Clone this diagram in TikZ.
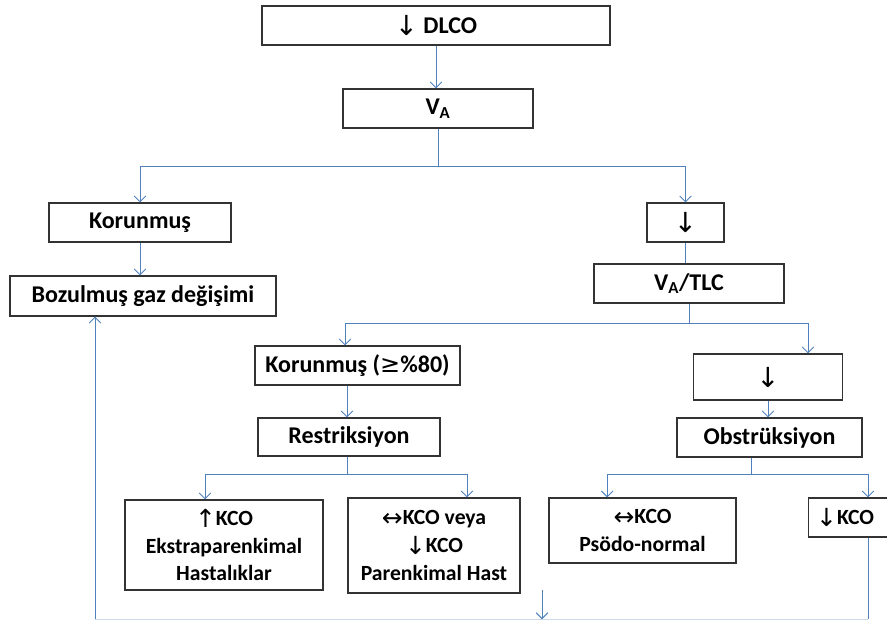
\documentclass[tikz,border=0pt]{standalone}
\usepackage{fontspec}
\setmainfont{Carlito}
\newfontfamily\okfont{DejaVu Sans}
\usepackage{tikz}
\usetikzlibrary{arrows.meta}
\definecolor{baglanti}{RGB}{79,129,189}
\newcommand{\ok}[1]{\raisebox{-0.15ex}{\scalebox{1.15}{\okfont\mdseries #1}}}
\tikzset{
  kutu/.style={draw=black!80,line width=0.9pt,fill=white,inner sep=0pt,align=center,font=\bfseries\fontsize{20.5}{24}\selectfont},
  altkutu/.style={kutu,font=\bfseries\fontsize{18.5}{23.5}\selectfont},
  hat/.style={draw=baglanti,line width=0.8pt},
  okhat/.style={hat,-{Straight Barb[length=5pt,width=10pt,line width=0.8pt]}}
}
\begin{document}
\begin{tikzpicture}[x=0.03cm,y=-0.03cm]
  \useasboundingbox (0,0) rectangle (887,620);
  % ust kisim
  \node[kutu,minimum width=10.44cm,minimum height=1.17cm] (dlco) at (436,25.5) {\ok{↓} DLCO};
  \node[kutu,minimum width=5.7cm,minimum height=1.17cm] (va) at (438,108.5) {V\textsubscript{A}};
  \node[kutu,minimum width=5.46cm,minimum height=1.17cm] (korL) at (140,222.5) {Korunmuş};
  \node[kutu,minimum width=7.98cm,minimum height=1.2cm] (bozul) at (143,296) {Bozulmuş gaz değişimi};
  \node[kutu,minimum width=2.31cm,minimum height=1.17cm] (azal) at (685.5,222.5) {\ok{↓}};
  \node[kutu,minimum width=5.7cm,minimum height=1.17cm] (vatlc) at (689,283.5) {V\textsubscript{A}/TLC};
  % orta kisim
  \node[kutu,minimum width=6.15cm,minimum height=1.17cm] (kor80) at (357.5,365.5) {Korunmuş ({\okfont\mdseries ≥}\%80)};
  \node[kutu,minimum width=5.46cm,minimum height=1.14cm] (restr) at (349,437) {Restriksiyon};
  \node[kutu,minimum width=4.47cm,minimum height=1.38cm] (azal2) at (768,377) {\ok{↓}};
  \node[kutu,minimum width=5.55cm,minimum height=1.17cm] (obstr) at (769.5,437.5) {Obstrüksiyon};
  % alt kisim
  \node[altkutu,minimum width=5.94cm,minimum height=2.7cm] (kcoA) at (224,545) {\ok{↑}KCO\\Ekstraparenkimal\\Hastalıklar};
  \node[altkutu,minimum width=5.16cm,minimum height=2.85cm] (kcoB) at (434,545.5) {\ok{↔}KCO veya\\\ok{↓}KCO\\Parenkimal Hast};
  \node[altkutu,minimum width=5.61cm,minimum height=1.95cm] (kcoC) at (642.5,530.5) {\ok{↔}KCO\\Psödo-normal};
  \node[altkutu,minimum width=2.52cm,minimum height=1.17cm,anchor=west] (kcoD) at (808,517.5) {\ok{↓}KCO\hspace{0.5em}};
  % baglantilar
  \draw[okhat] (dlco) -- (dlco |- va.north);
  \coordinate (b1) at (va.south |- 0,166);
  \draw[hat] (va.south) -- (b1);
  \draw[okhat] (b1) -| (korL.north);
  \draw[okhat] (b1) -| (azal.north);
  \draw[okhat] (korL) -- (korL |- bozul.north);
  \draw[hat] (azal) -- (azal |- vatlc.north);
  \coordinate (b2) at (vatlc.south |- 0,323);
  \draw[hat] (vatlc.south) -- (b2);
  \draw[okhat] (b2) -| ([xshift=-0.12cm]restr.north |- kor80.north);
  \draw[okhat] (b2) -| ([xshift=1.2cm]azal2.north);
  \draw[okhat] ([xshift=-0.06cm]restr.north |- kor80.south) -- ([xshift=-0.06cm]restr.north);
  \draw[okhat] (azal2) -- (azal2 |- obstr.north);
  \coordinate (b3) at ([xshift=-0.06cm]restr.south |- 0,474);
  \draw[hat] ([xshift=-0.06cm]restr.south) -- (b3);
  \draw[okhat] (b3) -| ([xshift=-0.57cm]kcoA.north);
  \draw[okhat] (b3) -| ([xshift=0.99cm]kcoB.north);
  \coordinate (b4) at ([xshift=-0.54cm]obstr.south |- 0,474);
  \draw[hat] ([xshift=-0.54cm]obstr.south) -- (b4);
  \draw[okhat] (b4) -| ([xshift=-1.06cm]kcoC.north);
  \draw[okhat] (b4) -| ([xshift=1.8cm]kcoD.north west);
  % alt donus
  \coordinate (sagalt) at ([xshift=1.8cm]kcoD.south west |- 0,619.3);
  \coordinate (solalt) at (95,619.3);
  \coordinate (orta) at (542,590);
  \draw[hat] ([xshift=1.8cm]kcoD.south west) -- (sagalt);
  \draw[hat,draw=baglanti!30] (sagalt) -- (solalt);
  \draw[okhat] (solalt) -- (solalt |- bozul.south);
  \draw[okhat] (orta) -- (orta |- solalt);
\end{tikzpicture}
\end{document}
